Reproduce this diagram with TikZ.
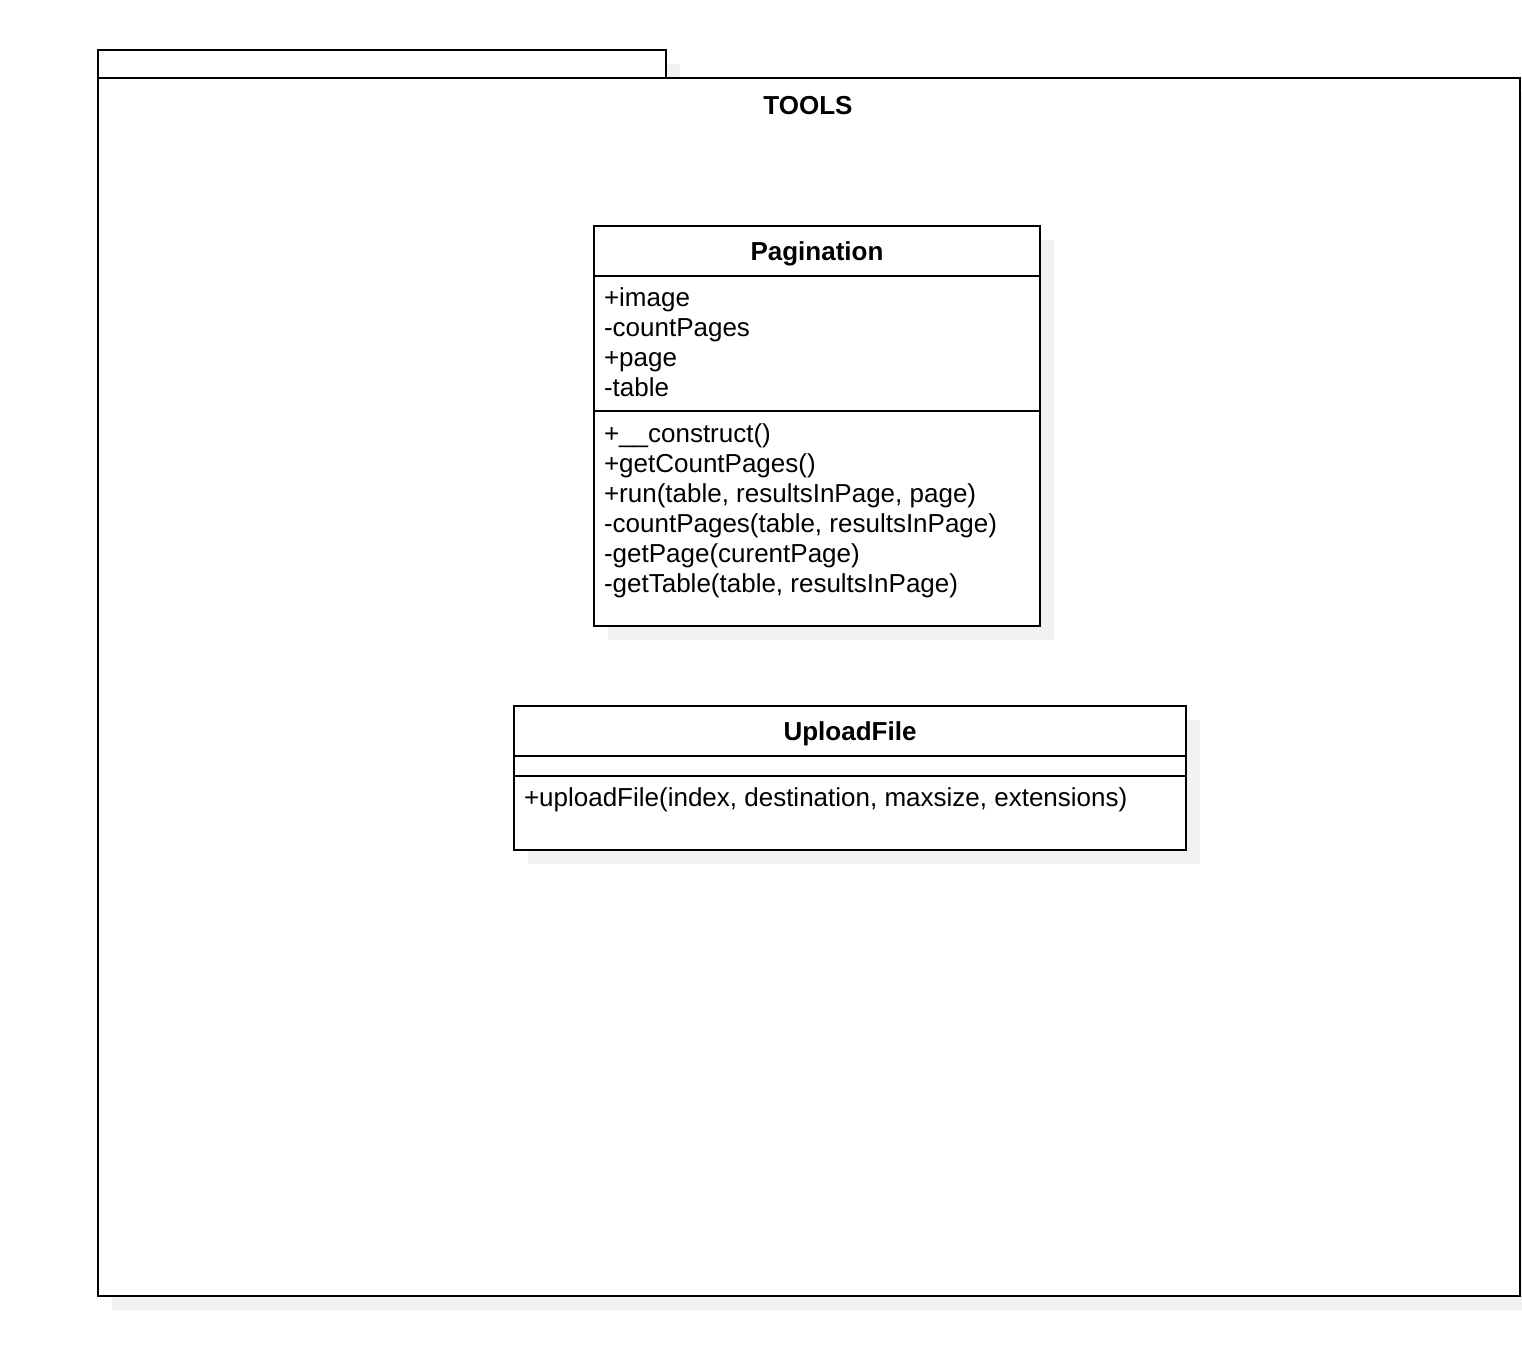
\documentclass[tikz,border=0pt]{standalone}
\usepackage{fontspec}
\setmainfont{Liberation Sans}
\usetikzlibrary{calc}
\definecolor{shade}{RGB}{242,242,242}
\begin{document}
\begin{tikzpicture}[x=1pt,y=-1pt,line width=1.6pt,
  every node/.style={inner sep=0pt,outer sep=0pt},
  umlbox/.style={draw=black,fill=white,anchor=north west},
  txt/.style={anchor=base west,font=\fontsize{26}{30}\selectfont},
  ttl/.style={anchor=base,font=\fontsize{26}{30}\selectfont\bfseries},
  shadowfill/.style={fill=shade,draw=none}]
\useasboundingbox (0,0) rectangle (1522,1346);
% shadows
\fill[shadowfill] (112,92) rectangle (1522,1310);
\fill[shadowfill] (666,64) rectangle (680,78);
% package
\node[umlbox,minimum width=568pt,minimum height=28pt] (tab) at (98,50) {};
\node[umlbox,minimum width=1422pt,minimum height=1218pt] (pkg) at (98,78) {};
\node[ttl] (tools) at (808,114) {TOOLS};
% Pagination class
\fill[shadowfill] (608,240) rectangle (1054,640);
\node[umlbox,minimum width=446pt,minimum height=400pt] (pag) at (594,226) {};
\draw (pag.west |- 0,276) -- (pag.east |- 0,276);
\draw (pag.west |- 0,411) -- (pag.east |- 0,411);
\node[ttl] (pagt) at (817,260) {Pagination};
\node[txt] (a1) at (604,306) {+image};
\node[txt] (a2) at (604,336) {-countPages};
\node[txt] (a3) at (604,366) {+page};
\node[txt] (a4) at (604,396) {-table};
\node[txt] (m1) at (604,442) {+\_\_construct()};
\node[txt] (m2) at (604,472) {+getCountPages()};
\node[txt] (m3) at (604,502) {+run(table, resultsInPage, page)};
\node[txt] (m4) at (604,532) {-countPages(table, resultsInPage)};
\node[txt] (m5) at (604,562) {-getPage(curentPage)};
\node[txt] (m6) at (604,592) {-getTable(table, resultsInPage)};
% UploadFile class
\fill[shadowfill] (528,720) rectangle (1200,864);
\node[umlbox,minimum width=672pt,minimum height=144pt] (upl) at (514,706) {};
\draw (upl.west |- 0,756) -- (upl.east |- 0,756);
\draw (upl.west |- 0,776) -- (upl.east |- 0,776);
\node[ttl] (uplt) at (850,740) {UploadFile};
\node[txt] (u1) at (524,806) {+uploadFile(index, destination, maxsize, extensions)};
\end{tikzpicture}
\end{document}
